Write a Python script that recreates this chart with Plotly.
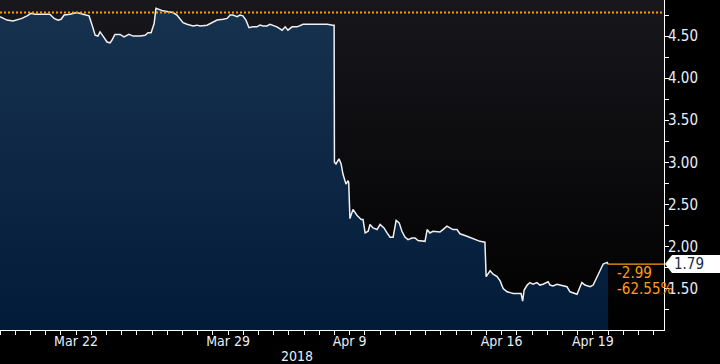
import plotly.graph_objects as go

# ---- data (time in trading-day units; day k spans [k, k+1]) ----
times = [0.00, 0.23, 0.43, 0.56, 0.72, 0.89, 1.02, 1.15, 1.32, 1.64, 1.78, 1.91, 2.01, 2.11, 2.30,
         2.53, 2.73, 2.93, 3.03, 3.13, 3.22, 3.29, 3.39, 3.52, 3.62, 3.68, 3.78, 3.95, 4.08, 4.24,
         4.38, 4.61, 4.77, 4.87, 4.97, 5.07, 5.13, 5.20, 5.36, 5.53, 5.69, 5.82, 6.02, 6.15, 6.35,
         6.48, 6.58, 6.81, 7.01, 7.14, 7.34, 7.47, 7.57, 7.66, 7.80, 7.89, 7.99, 8.09, 8.19, 8.32,
         8.45, 8.55, 8.65, 8.78, 8.88, 9.11, 9.28, 9.38, 9.47, 9.61, 9.77, 9.97, 10.20, 10.53, 10.76,
         10.95, 10.99, 11.00, 11.05, 11.15, 11.22, 11.28, 11.38, 11.45, 11.47, 11.51, 11.61, 11.74,
         11.88, 11.94, 12.01, 12.11, 12.17, 12.27, 12.40, 12.50, 12.63, 12.73, 12.83, 12.93, 13.03,
         13.13, 13.22, 13.32, 13.42, 13.55, 13.65, 13.75, 13.88, 13.98, 14.05, 14.14, 14.24, 14.47,
         14.57, 14.70, 14.80, 14.90, 15.03, 15.13, 15.36, 15.56, 15.69, 15.79, 15.95, 15.99, 16.12,
         16.22, 16.35, 16.45, 16.55, 16.68, 16.78, 16.88, 17.14, 17.19, 17.24, 17.34, 17.43, 17.53,
         17.66, 17.76, 17.86, 18.03, 18.09, 18.19, 18.32, 18.52, 18.65, 18.75, 18.85, 18.98, 19.08,
         19.14, 19.24, 19.41, 19.51, 19.64, 19.74, 19.84, 19.97, 20.00]
prices = [4.73, 4.69, 4.68, 4.69, 4.71, 4.74, 4.77, 4.76, 4.76, 4.76, 4.71, 4.69, 4.70, 4.75, 4.76,
          4.78, 4.76, 4.74, 4.63, 4.51, 4.50, 4.55, 4.50, 4.43, 4.42, 4.45, 4.52, 4.52, 4.49, 4.52,
          4.50, 4.50, 4.51, 4.54, 4.54, 4.65, 4.83, 4.82, 4.80, 4.79, 4.78, 4.75, 4.66, 4.64, 4.62,
          4.63, 4.62, 4.63, 4.67, 4.69, 4.70, 4.71, 4.75, 4.75, 4.73, 4.75, 4.74, 4.69, 4.60, 4.61,
          4.61, 4.63, 4.62, 4.62, 4.64, 4.61, 4.57, 4.61, 4.57, 4.61, 4.61, 4.64, 4.64, 4.64, 4.64,
          4.63, 4.63, 3.00, 2.98, 3.04, 2.98, 2.86, 2.74, 2.78, 2.76, 2.33, 2.44, 2.37,
          2.32, 2.32, 2.16, 2.18, 2.26, 2.22, 2.20, 2.26, 2.22, 2.16, 2.11, 2.11, 2.31,
          2.28, 2.18, 2.11, 2.08, 2.10, 2.10, 2.07, 2.06, 2.06, 2.20, 2.16, 2.18, 2.17,
          2.20, 2.24, 2.22, 2.20, 2.20, 2.15, 2.12, 2.09, 2.08, 2.06, 2.05, 1.64, 1.71,
          1.67, 1.64, 1.59, 1.50, 1.46, 1.45, 1.44, 1.44, 1.35, 1.48, 1.54, 1.57, 1.55,
          1.57, 1.54, 1.55, 1.58, 1.54, 1.53, 1.55, 1.53, 1.52, 1.46, 1.45, 1.43, 1.52,
          1.57, 1.54, 1.52, 1.54, 1.64, 1.73, 1.79, 1.81, 1.79]
ref_price = 4.78

tick_days = [2.5, 7.5, 11.5, 16.5, 19.5]
tick_labels = ["Mar 22", "Mar 29", "Apr 9", "Apr 16", "Apr 19"]
year_label = "2018"
y_ticks = [1.5, 2.0, 2.5, 3.0, 3.5, 4.0, 4.5]

x_range = [0, 21.84]
y_range = [1.006, 4.929]

last = prices[-1]
change = last - ref_price
pct = change / ref_price * 100

FONT = "Liberation Sans Narrow, DejaVu Sans Condensed, Arial Narrow, sans-serif"
ORANGE = "#ff9b1a"

fig = go.Figure()

# background gradient of plot area
fig.add_trace(go.Scatter(
    x=x_range, y=[y_range[1], y_range[1]], mode="lines", line=dict(width=0),
    fill="tozeroy",
    fillgradient=dict(type="vertical", colorscale=[[0, "#000000"], [1, "#17171c"]],
                      start=y_range[0], stop=y_range[1]),
    hoverinfo="skip", showlegend=False))

# price area
fig.add_trace(go.Scatter(
    x=times, y=prices, mode="lines",
    line=dict(color="#f0f0f0", width=1.5),
    fill="tozeroy",
    fillgradient=dict(type="vertical", colorscale=[[0, "#021b39"], [1, "#17324f"]],
                      start=y_range[0], stop=4.85),
    showlegend=False))

# last price line to the axis
fig.add_trace(go.Scatter(
    x=[times[-1], x_range[1]], y=[last, last], mode="lines",
    line=dict(color=ORANGE, width=1.2), showlegend=False, hoverinfo="skip"))

# reference (dotted) line
fig.add_shape(type="line", xref="paper", x0=0, x1=1, yref="y", y0=ref_price, y1=ref_price,
              line=dict(color="#ff9900", width=2, dash="2px,2px"))

# last price tag box with arrow
fig.add_shape(type="path", xref="paper", xsizemode="pixel", xanchor=1,
              yref="y", ysizemode="pixel", yanchor=last,
              path="M 1 0 L 8 9 L 70 9 L 70 -9 L 8 -9 Z",
              fillcolor="#ffffff", line=dict(width=0), layer="above")

fig.add_annotation(xref="paper", x=1, yref="y", y=last, text=f"{last:.2f}",
                   xanchor="left", xshift=8, showarrow=False,
                   font=dict(family=FONT, size=15, color="#13294d"))

fig.add_annotation(xref="x", x=times[-1], yref="y", y=last, text=f"{change:.2f}",
                   xanchor="left", xshift=7, yshift=-9, showarrow=False,
                   font=dict(family=FONT, size=15, color=ORANGE))
fig.add_annotation(xref="x", x=times[-1], yref="y", y=last, text=f"{pct:.2f}%",
                   xanchor="left", xshift=7, yshift=-25, showarrow=False,
                   font=dict(family=FONT, size=15, color=ORANGE))

fig.add_annotation(xref="paper", x=297 / 664, yref="paper", y=0, yshift=-26,
                   text=year_label, xanchor="center", yanchor="middle", showarrow=False,
                   font=dict(family=FONT, size=14, color="#e8eef8"))

fig.update_layout(
    width=720, height=364,
    margin=dict(l=0, r=56, t=0, b=34),
    paper_bgcolor="#000000", plot_bgcolor="#000000",
    font=dict(family=FONT, size=15, color="#e8eef8"),
    xaxis=dict(range=x_range, tickmode="array", tickvals=tick_days, ticktext=tick_labels,
               showgrid=True, gridcolor="#5c6470", griddash="2px,3px", gridwidth=1,
               showline=True, linecolor="#ffffff", linewidth=1,
               ticks="outside", ticklen=4, tickcolor="#ffffff",
               ticklabelstandoff=-6,
               minor=dict(dtick=0.5, tick0=0, ticks="outside", ticklen=4, tickcolor="#ffffff"),
               tickfont=dict(family=FONT, size=14, color="#e8eef8"),
               zeroline=False, fixedrange=True),
    yaxis=dict(range=y_range, side="right", tickmode="array", tickvals=y_ticks,
               ticktext=[f"{v:.2f}" for v in y_ticks], tickprefix="\u25B6",
               showgrid=True, gridcolor="#5c6470", griddash="2px,3px", gridwidth=1,
               showline=True, linecolor="#ffffff", linewidth=1,
               ticks="", ticklen=0,
               minor=dict(dtick=0.25, tick0=0, ticks="outside", ticklen=4, tickcolor="#ffffff"),
               tickfont=dict(family=FONT, size=15, color="#e8eef8"),
               zeroline=False, fixedrange=True),
)

fig.write_html("out.html", config={"displayModeBar": False},
               post_script="document.body.style.margin='0px';document.body.style.background='#000';")
